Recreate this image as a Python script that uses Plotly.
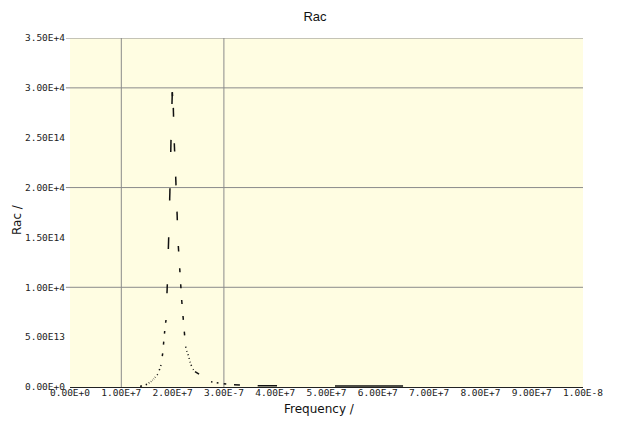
import plotly.graph_objects as go

# ---- data (frequency in Hz, Rac) ----
FREQ = [1.253e7, 1.404e7, 1.501e7, 1.546e7, 1.585e7, 1.612e7, 1.637e7, 1.663e7,
        1.710e7, 1.749e7, 1.774e7, 1.807e7, 1.827e7, 1.846e7, 1.871e7, 1.897e7,
        1.924e7, 1.949e7, 1.969e7, 1.994e7,
        2.014e7, 2.033e7, 2.060e7, 2.086e7, 2.111e7, 2.138e7, 2.158e7, 2.177e7,
        2.203e7, 2.228e7, 2.255e7, 2.275e7, 2.300e7, 2.320e7, 2.339e7, 2.359e7,
        2.398e7, 2.437e7, 2.749e7, 2.860e7, 2.996e7, 3.197e7, 3.659e7, 5.166e7,
        1.047e8]
RAC = [20, 100, 271, 431, 572, 702, 833, 1003,
       1274, 1806, 2207, 3381, 4545, 5619, 6722, 10304,
       15020, 19936, 24782, 29568,
       27992, 24451, 21100, 17588, 14147, 11909, 10304, 8729,
       7124, 5548, 4043, 3612, 3281, 2910, 2538, 2237,
       1776, 1535, 532, 431, 331, 231, 130, 100,
       70]

X_TICKS = [0, 1e7, 2e7, 3e7, 4e7, 5e7, 6e7, 7e7, 8e7, 9e7, 1e8]
X_LABELS = ["0.00E+0", "1.00E+7", "2.00E+7", "3.00E-7", "4.00E+7", "5.00E+7",
            "6.00E+7", "7.00E+7", "8.00E+7", "9.00E+7", "1.00E-8"]
Y_TICKS = [0, 5000, 10000, 15000, 20000, 25000, 30000, 35000]
Y_LABELS = ["0.00E+0", "5.00E13", "1.00E+4", "1.50E14", "2.00E+4", "2.50E14",
            "3.00E+4", "3.50E+4"]
GRID_X = [1e7, 3e7]
GRID_Y = [10000, 20000, 30000, 35000]

TITLE = "Rac"
X_TITLE = "Frequency /"
Y_TITLE = "Rac /"

# ---- broken-dash look: each segment shows the quarter nearest its higher end ----
FRAC = 0.25
xs, ys = [], []
for i in range(len(FREQ) - 1):
    f0, r0, f1, r1 = FREQ[i], RAC[i], FREQ[i + 1], RAC[i + 1]
    if r0 < r1:
        f0, r0, f1, r1 = f1, r1, f0, r0
    xs += [f0, f0 + FRAC * (f1 - f0), None]
    ys += [r0, r0 + FRAC * (r1 - r0), None]

fig = go.Figure()
fig.add_trace(go.Scatter(x=xs, y=ys, mode="lines",
                         line=dict(color="#111111", width=1.5),
                         hoverinfo="skip", showlegend=False))

shapes = []
for gy in GRID_Y:
    shapes.append(dict(type="line", xref="paper", yref="y", x0=-0.008, x1=1,
                       y0=gy, y1=gy, line=dict(color="#8a8a8a", width=1), layer="below"))
for gx in GRID_X:
    shapes.append(dict(type="line", xref="x", yref="paper", x0=gx, x1=gx,
                       y0=0, y1=1, line=dict(color="#8a8a8a", width=1), layer="below"))

tick_font = dict(family="DejaVu Sans Mono", size=9.5, color="#222222")
W, H = 609, 413   # page adds an 8px body margin; keep the whole figure inside the window

fig.update_layout(
    width=W, height=H,
    margin=dict(l=62, r=34, t=30, b=34, autoexpand=False),
    paper_bgcolor="white",
    plot_bgcolor="#FFFDE2",
    title=dict(text=TITLE, x=(315 - 8) / W, xref="container", xanchor="center",
               y=1 - (16 - 8) / H, yref="container", yanchor="middle", automargin=False,
               font=dict(family="Liberation Sans", size=13, color="#111111")),
    shapes=shapes,
    annotations=[
        dict(text=Y_TITLE, textangle=-90, xref="paper", yref="paper",
             x=(17 - 70) / 513, y=(387 - 220) / 349,
             xanchor="center", yanchor="middle", showarrow=False,
             font=dict(family="DejaVu Sans", size=12, color="#111111")),
        dict(text=X_TITLE, xref="paper", yref="paper",
             x=(319 - 70) / 513, y=-(409 - 387) / 349,
             xanchor="center", yanchor="middle", showarrow=False,
             font=dict(family="DejaVu Sans", size=12, color="#111111")),
    ],
    xaxis=dict(range=[0, 1e8], tickvals=X_TICKS, ticktext=X_LABELS,
               showgrid=False, zeroline=False, showline=True,
               linecolor="#222222", linewidth=1, ticks="", automargin=False,
               tickfont=tick_font, ticklabelstandoff=-3),
    yaxis=dict(range=[0, 35000], tickvals=Y_TICKS, ticktext=Y_LABELS,
               showgrid=False, zeroline=False, showline=False, ticks="", automargin=False,
               tickfont=tick_font, ticklabelstandoff=4),
)

fig.write_html("out.html")
